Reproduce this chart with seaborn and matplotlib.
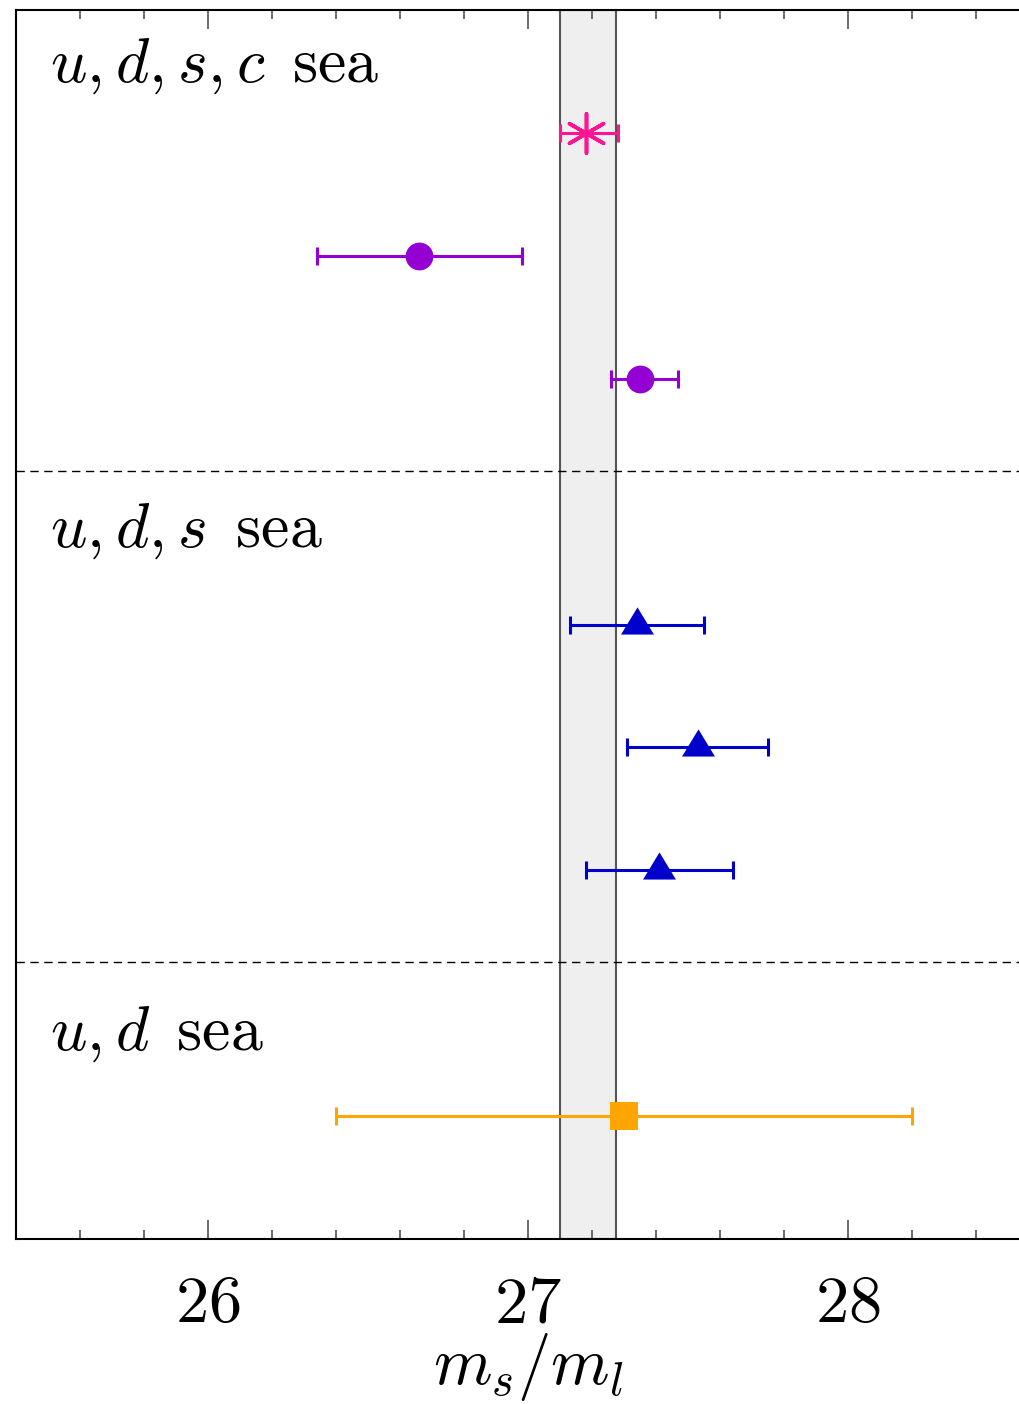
import matplotlib
matplotlib.use("Agg")
import matplotlib.pyplot as plt
import seaborn as sns
import pandas as pd

# Lattice determinations of m_s/m_l, grouped by sea-quark content
groups = ["udsc", "udsc", "udsc", "uds", "uds", "uds", "ud"]
rows = [1, 2, 3, 5, 6, 7, 9]
values = [27.18, 26.66, 27.35, 27.34, 27.53, 27.41, 27.30]
err_lo = [0.08, 0.32, 0.09, 0.21, 0.22, 0.23, 0.90]
err_hi = [0.10, 0.32, 0.12, 0.21, 0.22, 0.23, 0.90]
marker_kind = ["star", "circle", "circle", "tri", "tri", "tri", "square"]
colors = ["#ff1493", "#9400d3", "#9400d3", "#0000cd", "#0000cd", "#0000cd", "#ffa500"]

# Averaged band
band_lo, band_hi = 27.10, 27.275

section_labels = [r"$u, d, s, c\ \,\mathrm{sea}$", r"$u, d, s\ \,\mathrm{sea}$", r"$u, d\ \,\mathrm{sea}$"]
section_label_rows = [0.58, 4.37, 8.46]
separator_rows = [3.75, 7.75]

tick_values = [26, 27, 28]
tick_labels = ["$26$", "$27$", "$28$"]

df = pd.DataFrame({"group": groups, "row": rows, "value": values,
                   "lo": err_lo, "hi": err_hi, "kind": marker_kind, "color": colors})

sns.set_style("ticks")
plt.rcParams["mathtext.fontset"] = "cm"
plt.rcParams["font.family"] = ["DejaVu Serif"]
plt.rcParams["text.color"] = "black"
plt.rcParams["axes.labelcolor"] = "black"
plt.rcParams["xtick.labelcolor"] = "black"

fig = plt.figure(figsize=(10.2, 14.04), dpi=100)
ax = fig.add_axes([16 / 1020, 165 / 1404, 1024 / 1020, 1229 / 1404])

ax.axvspan(band_lo, band_hi, facecolor="#efefef", edgecolor="#555555", lw=1.5, zorder=0)
for r in separator_rows:
    ax.axhline(r, color="black", lw=1.0, dashes=(6, 4), zorder=1)

tri = [(-1, -0.55), (1, -0.55), (0, 1.1)]
marker_map = {"star": (6, 2, 0), "circle": "o", "tri": tri, "square": "s"}
size_map = {"star": 800, "circle": 400, "tri": 680, "square": 430}

for _, rec in df.iterrows():
    ax.errorbar(rec["value"], rec["row"], xerr=[[rec["lo"]], [rec["hi"]]], fmt="none",
                ecolor=rec["color"], elinewidth=2.2, capsize=6.5, capthick=2.2, zorder=2)

for kind in ["star", "circle", "tri", "square"]:
    sub = df[df["kind"] == kind]
    kw = dict(linewidth=2.6) if kind == "star" else dict(linewidth=0)
    sns.scatterplot(data=sub, x="value", y="row", ax=ax, marker=marker_map[kind],
                    s=size_map[kind], color=sub["color"].iloc[0], zorder=3, legend=False, **kw)

for txt, r in zip(section_labels, section_label_rows):
    ax.text(25.505, r, txt, fontsize=46, va="baseline", ha="left", color="black")

ax.set_xlim(25.4, 28.6)
ax.set_ylim(10, 0)
ax.set_yticks([])
ax.set_ylabel("")
ax.set_xticks(tick_values, labels=tick_labels)
ax.set_xticks([v / 10 for v in range(256, 287, 2) if v % 10 != 0], minor=True)
ax.tick_params(axis="x", which="both", direction="in", top=True, bottom=True,
               color="#444444", labelcolor="black", labelsize=48, pad=23)
ax.tick_params(axis="x", which="major", length=13.5, width=1.1)
ax.tick_params(axis="x", which="minor", length=6.7, width=1.1)
ax.set_xlabel("$m_s/m_l$", fontsize=48, labelpad=-4, color="black")
for sp in ax.spines.values():
    sp.set_linewidth(1.5)
    sp.set_color("black")

fig.savefig("out.png", dpi=100)
